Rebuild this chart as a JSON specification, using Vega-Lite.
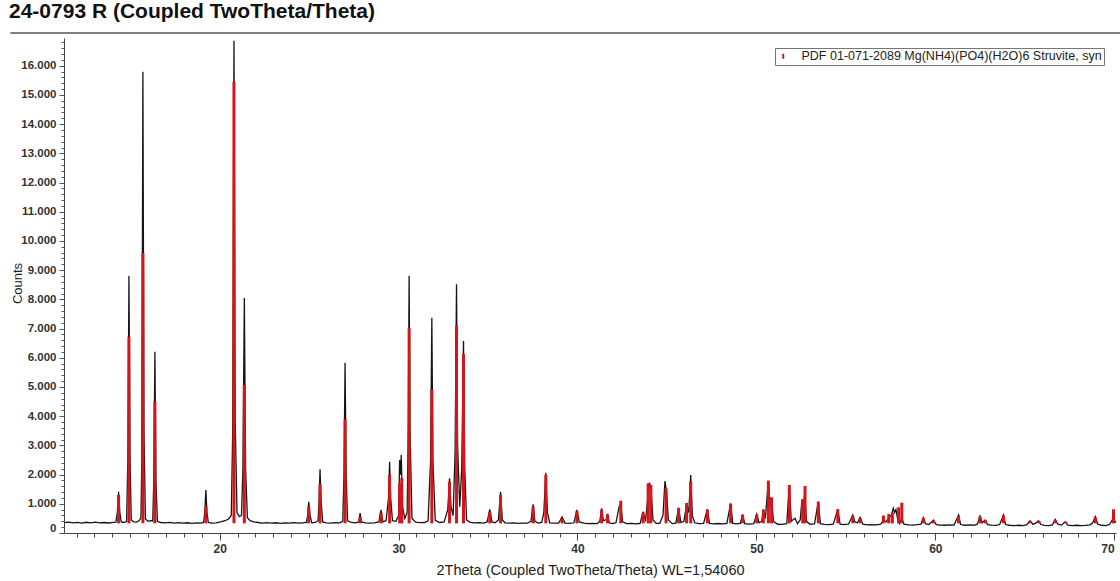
{
  "$schema": "https://vega.github.io/schema/vega-lite/v6.json",
  "width": 1052,
  "height": 495,
  "autosize": {"type": "none"},
  "padding": {"left": 64, "top": 38, "right": 4, "bottom": 48},
  "background": "white",
  "title": {"text": "24-0793 R (Coupled TwoTheta/Theta)", "anchor": "start", "frame": "group", "dx": -55, "offset": 10, "font": "Liberation Sans", "fontSize": 21, "fontWeight": "bold", "color": "#111111"},
  "config": {
    "locale": {"number": {"decimal": ",", "thousands": ".", "grouping": [3], "currency": ["", ""]}},
    "view": {"stroke": null}
  },
  "datasets": {
    "scan": [
      {"t":11.3,"c":352},{"t":11.55,"c":370},{"t":11.8,"c":345},{"t":12.05,"c":362},{"t":12.3,"c":340},{"t":12.55,"c":368},{"t":12.8,"c":350},{"t":13.05,"c":372},{"t":13.3,"c":348},{"t":13.55,"c":360},{"t":13.8,"c":342},{"t":14.05,"c":366},
      {"t":14.2,"c":370},{"t":14.28,"c":700},{"t":14.35,"c":1414},{"t":14.42,"c":700},{"t":14.5,"c":380},{"t":14.65,"c":360},
      {"t":14.8,"c":400},{"t":14.87,"c":2600},{"t":14.93,"c":8801},{"t":14.99,"c":2600},{"t":15.06,"c":450},
      {"t":15.2,"c":380},{"t":15.35,"c":370},{"t":15.5,"c":420},{"t":15.6,"c":520},
      {"t":15.65,"c":2500},{"t":15.71,"c":15798},{"t":15.77,"c":3500},{"t":15.85,"c":480},
      {"t":16.0,"c":400},{"t":16.15,"c":420},
      {"t":16.26,"c":420},{"t":16.32,"c":1800},{"t":16.38,"c":6209},{"t":16.44,"c":1800},{"t":16.52,"c":400},
      {"t":16.7,"c":360},{"t":16.95,"c":345},{"t":17.2,"c":365},{"t":17.45,"c":340},{"t":17.7,"c":355},{"t":17.95,"c":335},{"t":18.2,"c":350},{"t":18.45,"c":330},{"t":18.7,"c":345},{"t":18.95,"c":340},
      {"t":19.1,"c":360},{"t":19.17,"c":700},{"t":19.23,"c":1473},{"t":19.29,"c":700},{"t":19.37,"c":360},
      {"t":19.55,"c":340},{"t":19.8,"c":350},{"t":20.05,"c":380},{"t":20.3,"c":420},{"t":20.5,"c":480},{"t":20.65,"c":600},
      {"t":20.73,"c":3500},{"t":20.8,"c":16860},{"t":20.87,"c":3800},{"t":20.97,"c":700},{"t":21.1,"c":560},{"t":21.22,"c":600},
      {"t":21.3,"c":2200},{"t":21.38,"c":8048},{"t":21.45,"c":2200},{"t":21.55,"c":520},
      {"t":21.7,"c":420},{"t":21.9,"c":380},{"t":22.15,"c":360},{"t":22.4,"c":340},{"t":22.65,"c":355},{"t":22.9,"c":335},{"t":23.15,"c":350},{"t":23.4,"c":330},{"t":23.65,"c":345},{"t":23.9,"c":338},{"t":24.15,"c":352},{"t":24.4,"c":335},{"t":24.65,"c":348},{"t":24.85,"c":360},
      {"t":24.92,"c":600},{"t":24.98,"c":1072},{"t":25.05,"c":600},{"t":25.15,"c":350},
      {"t":25.35,"c":360},{"t":25.5,"c":420},{"t":25.56,"c":1100},{"t":25.61,"c":2182},{"t":25.67,"c":1100},{"t":25.76,"c":380},
      {"t":25.95,"c":350},{"t":26.2,"c":340},{"t":26.45,"c":355},{"t":26.7,"c":345},{"t":26.88,"c":400},
      {"t":26.95,"c":2000},{"t":27.01,"c":5832},{"t":27.07,"c":2000},{"t":27.15,"c":420},
      {"t":27.35,"c":360},{"t":27.6,"c":345},{"t":27.78,"c":380},{"t":27.85,"c":685},{"t":27.92,"c":380},{"t":28.15,"c":345},{"t":28.4,"c":338},{"t":28.65,"c":350},{"t":28.9,"c":380},{"t":29.02,"c":788},{"t":29.12,"c":380},{"t":29.3,"c":420},
      {"t":29.44,"c":1200},{"t":29.5,"c":2442},{"t":29.56,"c":1200},{"t":29.66,"c":420},
      {"t":29.85,"c":400},{"t":30.0,"c":600},{"t":30.06,"c":2500},{"t":30.11,"c":2000},{"t":30.15,"c":2671},{"t":30.22,"c":900},{"t":30.35,"c":500},{"t":30.48,"c":700},
      {"t":30.54,"c":3500},{"t":30.59,"c":8812},{"t":30.64,"c":3500},{"t":30.75,"c":500},
      {"t":30.95,"c":370},{"t":31.2,"c":355},{"t":31.45,"c":360},{"t":31.65,"c":420},{"t":31.79,"c":2500},{"t":31.86,"c":7373},{"t":31.92,"c":2500},{"t":32.05,"c":430},
      {"t":32.3,"c":360},{"t":32.55,"c":380},{"t":32.75,"c":800},{"t":32.85,"c":1873},{"t":32.93,"c":900},{"t":33.05,"c":600},{"t":33.16,"c":2800},
      {"t":33.24,"c":8517},{"t":33.3,"c":3000},{"t":33.42,"c":900},{"t":33.53,"c":2200},{"t":33.63,"c":6575},{"t":33.7,"c":2200},{"t":33.8,"c":450},
      {"t":34.0,"c":360},{"t":34.25,"c":345},{"t":34.5,"c":355},{"t":34.75,"c":340},{"t":34.95,"c":380},{"t":35.1,"c":812},{"t":35.22,"c":380},{"t":35.4,"c":350},{"t":35.58,"c":450},{"t":35.7,"c":1414},{"t":35.8,"c":450},{"t":35.95,"c":350},
      {"t":36.2,"c":335},{"t":36.45,"c":345},{"t":36.7,"c":330},{"t":36.95,"c":340},{"t":37.2,"c":335},{"t":37.4,"c":400},{"t":37.52,"c":983},{"t":37.62,"c":400},{"t":37.8,"c":340},{"t":38.0,"c":360},{"t":38.12,"c":700},{"t":38.23,"c":2065},{"t":38.32,"c":700},{"t":38.45,"c":350},
      {"t":38.7,"c":335},{"t":38.95,"c":340},{"t":39.14,"c":548},{"t":39.3,"c":340},{"t":39.55,"c":330},{"t":39.8,"c":350},{"t":39.97,"c":788},{"t":40.1,"c":380},{"t":40.35,"c":335},{"t":40.6,"c":320},{"t":40.85,"c":330},{"t":41.1,"c":320},
      {"t":41.25,"c":400},{"t":41.35,"c":846},{"t":41.45,"c":420},{"t":41.6,"c":450},{"t":41.68,"c":651},{"t":41.78,"c":350},{"t":41.95,"c":325},{"t":42.15,"c":350},{"t":42.33,"c":900},{"t":42.42,"c":1000},{"t":42.52,"c":380},
      {"t":42.75,"c":320},{"t":43.0,"c":330},{"t":43.25,"c":315},{"t":43.5,"c":330},{"t":43.67,"c":729},{"t":43.8,"c":400},{"t":43.93,"c":1200},{"t":44.03,"c":1723},{"t":44.12,"c":1400},{"t":44.22,"c":450},
      {"t":44.4,"c":330},{"t":44.6,"c":330},{"t":44.78,"c":600},{"t":44.89,"c":1781},{"t":44.98,"c":1400},{"t":45.08,"c":450},{"t":45.3,"c":320},{"t":45.5,"c":340},{"t":45.65,"c":866},{"t":45.78,"c":360},
      {"t":45.95,"c":400},{"t":46.1,"c":1000},{"t":46.22,"c":700},{"t":46.33,"c":1986},{"t":46.42,"c":600},{"t":46.55,"c":350},{"t":46.8,"c":320},{"t":47.05,"c":330},{"t":47.26,"c":812},{"t":47.38,"c":330},
      {"t":47.6,"c":315},{"t":47.85,"c":325},{"t":48.1,"c":310},{"t":48.35,"c":330},{"t":48.56,"c":1017},{"t":48.68,"c":330},{"t":48.9,"c":310},{"t":49.1,"c":330},{"t":49.23,"c":640},{"t":49.35,"c":320},
      {"t":49.6,"c":305},{"t":49.85,"c":320},{"t":50.02,"c":651},{"t":50.15,"c":350},{"t":50.3,"c":400},{"t":50.39,"c":812},{"t":50.5,"c":500},{"t":50.67,"c":1791},{"t":50.77,"c":900},{"t":50.85,"c":1200},{"t":50.95,"c":400},
      {"t":51.2,"c":300},{"t":51.45,"c":295},{"t":51.7,"c":320},{"t":51.84,"c":1644},{"t":51.95,"c":400},{"t":52.16,"c":503},{"t":52.3,"c":320},{"t":52.45,"c":450},{"t":52.55,"c":1150},{"t":52.62,"c":900},{"t":52.7,"c":1350},{"t":52.8,"c":400},
      {"t":53.0,"c":300},{"t":53.25,"c":310},{"t":53.46,"c":1072},{"t":53.58,"c":320},{"t":53.8,"c":295},{"t":54.05,"c":290},{"t":54.3,"c":300},{"t":54.55,"c":812},{"t":54.68,"c":300},{"t":54.9,"c":285},{"t":55.15,"c":300},{"t":55.39,"c":616},{"t":55.5,"c":380},{"t":55.65,"c":350},{"t":55.8,"c":538},{"t":55.95,"c":300},
      {"t":56.2,"c":280},{"t":56.45,"c":290},{"t":56.7,"c":275},{"t":56.95,"c":300},{"t":57.1,"c":450},{"t":57.25,"c":380},{"t":57.4,"c":520},{"t":57.55,"c":600},{"t":57.65,"c":846},{"t":57.72,"c":700},{"t":57.8,"c":800},{"t":57.9,"c":450},{"t":58.0,"c":320},{"t":58.13,"c":500},{"t":58.25,"c":300},
      {"t":58.5,"c":280},{"t":58.75,"c":270},{"t":59.0,"c":285},{"t":59.2,"c":300},{"t":59.33,"c":524},{"t":59.45,"c":320},{"t":59.65,"c":290},{"t":59.9,"c":445},{"t":60.05,"c":290},{"t":60.3,"c":270},{"t":60.55,"c":265},{"t":60.8,"c":280},{"t":61.05,"c":270},{"t":61.3,"c":616},{"t":61.42,"c":290},
      {"t":61.65,"c":265},{"t":61.9,"c":275},{"t":62.15,"c":265},{"t":62.35,"c":300},{"t":62.5,"c":582},{"t":62.62,"c":350},{"t":62.78,"c":445},{"t":62.92,"c":290},{"t":63.15,"c":270},{"t":63.4,"c":260},{"t":63.6,"c":290},{"t":63.81,"c":616},{"t":63.93,"c":290},
      {"t":64.15,"c":265},{"t":64.4,"c":250},{"t":64.65,"c":265},{"t":64.9,"c":255},{"t":65.1,"c":280},{"t":65.3,"c":421},{"t":65.45,"c":300},{"t":65.6,"c":330},{"t":65.77,"c":421},{"t":65.9,"c":290},{"t":66.1,"c":260},{"t":66.35,"c":250},{"t":66.55,"c":280},{"t":66.7,"c":469},{"t":66.85,"c":300},
      {"t":67.05,"c":270},{"t":67.26,"c":387},{"t":67.4,"c":270},{"t":67.65,"c":255},{"t":67.9,"c":265},{"t":68.15,"c":250},{"t":68.4,"c":260},{"t":68.65,"c":280},{"t":68.8,"c":350},{"t":68.94,"c":558},{"t":69.08,"c":300},{"t":69.3,"c":265},{"t":69.55,"c":255},{"t":69.75,"c":300},{"t":69.96,"c":514},{"t":70.08,"c":350}
    ],
    "sticks": [
      {"t":14.35,"i":1300},{"t":14.93,"i":6723},{"t":15.71,"i":9589},{"t":16.38,"i":4497},{"t":19.23,"i":900},{"t":20.8,"i":15455},{"t":21.38,"i":5068},
      {"t":24.98,"i":900},{"t":25.61,"i":1678},{"t":27.01,"i":3894},{"t":27.85,"i":548},{"t":29.02,"i":685},{"t":29.5,"i":1986},{"t":30.06,"i":1700},{"t":30.18,"i":1880},
      {"t":30.59,"i":7010},{"t":31.86,"i":4921},{"t":32.85,"i":1757},{"t":33.24,"i":7099},{"t":33.63,"i":6130},{"t":35.1,"i":729},{"t":35.7,"i":1300},{"t":37.52,"i":900},
      {"t":38.23,"i":1986},{"t":39.14,"i":500},{"t":39.97,"i":750},{"t":41.35,"i":800},{"t":41.68,"i":640},{"t":42.42,"i":1106},{"t":43.67,"i":700},{"t":43.95,"i":1700},
      {"t":44.1,"i":1650},{"t":44.95,"i":1531},{"t":45.65,"i":850},{"t":46.1,"i":1027},{"t":46.33,"i":1757},{"t":47.26,"i":800},{"t":48.56,"i":1000},{"t":49.23,"i":620},
      {"t":50.02,"i":620},{"t":50.39,"i":800},{"t":50.67,"i":1791},{"t":50.85,"i":1223},{"t":51.84,"i":1644},{"t":52.59,"i":1150},{"t":52.72,"i":1610},{"t":53.46,"i":1072},
      {"t":54.55,"i":812},{"t":55.39,"i":580},{"t":55.8,"i":500},{"t":57.1,"i":600},{"t":57.4,"i":650},{"t":57.6,"i":700},{"t":57.95,"i":880},{"t":58.13,"i":1038},
      {"t":59.33,"i":510},{"t":59.9,"i":430},{"t":61.3,"i":600},{"t":62.5,"i":560},{"t":62.8,"i":440},{"t":63.81,"i":600},{"t":65.3,"i":410},{"t":65.8,"i":410},
      {"t":66.7,"i":450},{"t":67.3,"i":380},{"t":68.94,"i":540},{"t":69.96,"i":812}
    ]
  },
  "layer": [
    {
      "data": {"name": "scan"},
      "mark": {"type": "line", "color": "#151515", "strokeWidth": 1.3},
      "encoding": {
        "x": {
          "field": "t", "type": "quantitative",
          "scale": {"domain": [11.3, 70.1], "nice": false, "zero": false},
          "axis": {
            "values": [12,13,14,15,16,17,18,19,20,21,22,23,24,25,26,27,28,29,30,31,32,33,34,35,36,37,38,39,40,41,42,43,44,45,46,47,48,49,50,51,52,53,54,55,56,57,58,59,60,61,62,63,64,65,66,67,68,69,70],
            "tickCount": 1000,
            "format": "d",
            "labelExpr": "datum.value % 10 === 0 ? datum.label : ''",
            "labelOverlap": false,
            "labelBound": false,
            "tickSize": {"condition": {"test": "datum.value % 10 === 0", "value": 7}, "value": 4},
            "grid": false,
            "domainColor": "#444444", "tickColor": "#444444",
            "labelFont": "Liberation Sans", "labelFontSize": 12, "labelFontWeight": "bold", "labelColor": "#333333", "labelPadding": 3,
            "labelFlush": 3,
            "title": "2Theta (Coupled TwoTheta/Theta) WL=1,54060",
            "titleFont": "Liberation Sans", "titleFontSize": 14.5, "titleFontWeight": "normal", "titleColor": "#222222", "titlePadding": 9
          }
        },
        "y": {
          "field": "c", "type": "quantitative",
          "scale": {"domain": [0, 16950], "nice": false},
          "axis": {
            "values": [0,200,400,600,800,1000,1200,1400,1600,1800,2000,2200,2400,2600,2800,3000,3200,3400,3600,3800,4000,4200,4400,4600,4800,5000,5200,5400,5600,5800,6000,6200,6400,6600,6800,7000,7200,7400,7600,7800,8000,8200,8400,8600,8800,9000,9200,9400,9600,9800,10000,10200,10400,10600,10800,11000,11200,11400,11600,11800,12000,12200,12400,12600,12800,13000,13200,13400,13600,13800,14000,14200,14400,14600,14800,15000,15200,15400,15600,15800,16000,16200,16400,16600,16800],
            "tickCount": 1000,
            "format": ",d",
            "labelExpr": "datum.value % 1000 === 0 ? datum.label : ''",
            "labelOverlap": false,
            "tickSize": {"condition": {"test": "datum.value % 1000 === 0", "value": 5}, "value": 3},
            "labelFlush": true,
            "grid": false,
            "domainColor": "#444444", "tickColor": "#555555",
            "labelFont": "Liberation Sans", "labelFontSize": 11.5, "labelFontWeight": "bold", "labelColor": "#333333", "labelPadding": 3,
            "title": "Counts",
            "titleFont": "Liberation Sans", "titleFontSize": 13, "titleFontWeight": "normal", "titleColor": "#222222",
            "titleX": -47, "titleY": 245, "titleAngle": -90, "titleAlign": "center", "titleBaseline": "middle"
          }
        }
      }
    },
    {
      "data": {"name": "sticks"},
      "mark": {"type": "rule", "strokeWidth": 3},
      "encoding": {
        "x": {"field": "t", "type": "quantitative"},
        "y": {"field": "i", "type": "quantitative"},
        "y2": {"datum": 330},
        "color": {
          "datum": "PDF 01-071-2089 Mg(NH4)(PO4)(H2O)6 Struvite, syn",
          "type": "nominal",
          "scale": {"range": ["#d4161c"]},
          "legend": {
            "title": null, "orient": "none", "legendX": 711, "legendY": 10,
            "strokeColor": "#777777", "fillColor": "white", "padding": 2,
            "labelFont": "Liberation Sans", "labelFontSize": 12.5, "labelColor": "#222222", "labelOffset": 12, "labelLimit": 0,
            "symbolType": "M-0.2,-0.5L0.2,-0.5L0.2,0.5L-0.2,0.5Z", "symbolSize": 100,
            "symbolFillColor": "#d4161c", "symbolStrokeColor": "#d4161c", "symbolStrokeWidth": 0
          }
        }
      }
    },
    {
      "data": {"values": [{}]},
      "mark": {"type": "rule", "clip": false, "color": "#555555", "strokeWidth": 1.5},
      "encoding": {
        "x": {"datum": 8.3},
        "x2": {"datum": 70.35},
        "y": {"datum": 17120}
      }
    }
  ]
}
